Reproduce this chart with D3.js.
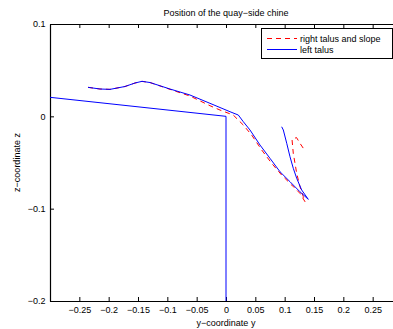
<!DOCTYPE html>
<html>
<head>
<meta charset="utf-8">
<script src="https://cdn.jsdelivr.net/npm/d3@7"></script>
<style>
  body { margin: 0; background: #fff; }
  svg { display: block; font-family: "Liberation Sans", Arial, sans-serif; }
  .axis text { font-size: 9px; fill: #000; }
  .axis line, .axis path { stroke: #000; }
</style>
</head>
<body>
<svg id="chart" width="393" height="329"></svg>
<script>

// y-coordinate (horizontal) / z-coordinate (vertical) pairs
const leftWall = [[-0.3, 0.0206], [0, 0], [0, -0.2]];

const leftTalus = [
    [-0.2352, 0.0314], [-0.2148, 0.0296], [-0.1977, 0.0292], [-0.1722, 0.0323],
    [-0.1551, 0.0361], [-0.1432, 0.0379], [-0.1295, 0.0366], [-0.0955, 0.0296],
    [-0.0614, 0.0231], [-0.0273, 0.0141], [0.0068, 0.0050], [0.0210, 0.0014],
    [0.0295, -0.0058], [0.0409, -0.0148], [0.0580, -0.0311], [0.0750, -0.0455],
    [0.0920, -0.0600], [0.1091, -0.0708], [0.1261, -0.0817], [0.1403, -0.0899]
];

const leftTalusBranch = [
    [0.0949, -0.0113], [0.0977, -0.0148], [0.1035, -0.0292], [0.1091, -0.0438],
    [0.1147, -0.0563], [0.1205, -0.0671], [0.1290, -0.0798], [0.1403, -0.0899]
];

const rightTalus = [
    [-0.2352, 0.0314], [-0.2148, 0.0296], [-0.1977, 0.0292], [-0.1722, 0.0323],
    [-0.1551, 0.0361], [-0.1432, 0.0379], [-0.1295, 0.0366], [-0.0955, 0.0292],
    [-0.0614, 0.0220], [-0.0273, 0.0115], [-0.0102, 0.0068], [0.0124, 0.0014],
    [0.0295, -0.0094], [0.0438, -0.0203], [0.0609, -0.0365], [0.0779, -0.0509],
    [0.0949, -0.0636], [0.1120, -0.0744], [0.1261, -0.0834], [0.1347, -0.0925],
    [0.1318, -0.0871], [0.1261, -0.0762], [0.1205, -0.0617], [0.1147, -0.0401],
    [0.1125, -0.0249], [0.1202, -0.0230], [0.1261, -0.0292], [0.1330, -0.0357]
];

const xTicks = [-0.25, -0.2, -0.15, -0.1, -0.05, 0, 0.05, 0.1, 0.15, 0.2, 0.25];
const yTicks = [0.1, 0, -0.1, -0.2];
const legendLabels = ['right talus and slope', 'left talus'];

const svg = d3.select('#chart');
const mLeft = 50, mRight = 402, mTop = 24, mBottom = 301;

const x = d3.scaleLinear().domain([-0.3, 0.3]).range([mLeft, mRight]);
const y = d3.scaleLinear().domain([-0.2, 0.1]).range([mBottom, mTop]);

const fmt = d => d === 0 ? '0' : String(d).replace('-', '\u2212');

svg.append('defs').append('clipPath').attr('id', 'plotClip')
    .append('rect')
    .attr('x', mLeft).attr('y', mTop)
    .attr('width', mRight - mLeft).attr('height', mBottom - mTop);

// axes, ticks pointing inward like MATLAB
svg.append('g').attr('class', 'axis')
    .attr('transform', 'translate(0,' + mBottom + ')')
    .call(d3.axisBottom(x).tickValues(xTicks).tickFormat(fmt).tickSize(-4).tickSizeOuter(0).tickPadding(6));

svg.append('g').attr('class', 'axis')
    .attr('transform', 'translate(0,' + mTop + ')')
    .call(d3.axisTop(x).tickValues(xTicks).tickFormat('').tickSize(-4).tickSizeOuter(0));

svg.append('g').attr('class', 'axis')
    .attr('transform', 'translate(' + mLeft + ',0)')
    .call(d3.axisLeft(y).tickValues(yTicks).tickFormat(fmt).tickSize(-4).tickSizeOuter(0).tickPadding(4.5));

svg.append('g').attr('class', 'axis')
    .attr('transform', 'translate(' + mRight + ',0)')
    .call(d3.axisRight(y).tickValues(yTicks).tickFormat('').tickSize(-4).tickSizeOuter(0));

svg.selectAll('.axis .domain').attr('stroke-width', 1.2);

// data lines
const line = d3.line().x(d => x(d[0])).y(d => y(d[1]));
const plot = svg.append('g').attr('clip-path', 'url(#plotClip)');

plot.append('path').datum(rightTalus)
    .attr('d', line)
    .attr('fill', 'none')
    .attr('stroke', '#ff0000')
    .attr('stroke-width', 1)
    .attr('stroke-dasharray', '5,4');

[leftWall, leftTalus, leftTalusBranch].forEach(function (s) {
    plot.append('path').datum(s)
        .attr('d', line)
        .attr('fill', 'none')
        .attr('stroke', '#0000ff')
        .attr('stroke-width', 1);
});

// labels
svg.append('text')
    .attr('x', (mLeft + mRight) / 2).attr('y', 16)
    .attr('text-anchor', 'middle').attr('font-size', 9)
    .text('Position of the quay\u2212side chine');

svg.append('text')
    .attr('x', (mLeft + mRight) / 2).attr('y', 326)
    .attr('text-anchor', 'middle').attr('font-size', 9)
    .text('y\u2212coordinate y');

svg.append('text')
    .attr('transform', 'translate(20,' + ((mTop + mBottom) / 2) + ') rotate(-90)')
    .attr('text-anchor', 'middle').attr('font-size', 9)
    .text('z\u2212coordinate z');

// legend
const lg = svg.append('g');
lg.append('rect')
    .attr('x', 261.5).attr('y', 28.5)
    .attr('width', 131).attr('height', 30)
    .attr('fill', '#fff').attr('stroke', '#000');

const legendStyles = [
    {color: '#ff0000', dash: '5,4'},
    {color: '#0000ff', dash: null}
];

legendLabels.forEach(function (label, i) {
    const ly = 38.5 + i * 11;
    lg.append('line')
        .attr('x1', 267).attr('x2', 297)
        .attr('y1', ly).attr('y2', ly)
        .attr('stroke', legendStyles[i].color)
        .attr('stroke-dasharray', legendStyles[i].dash);
    lg.append('text')
        .attr('x', 300).attr('y', ly + 3.2)
        .attr('font-size', 9)
        .text(label);
});

</script>
</body>
</html>
